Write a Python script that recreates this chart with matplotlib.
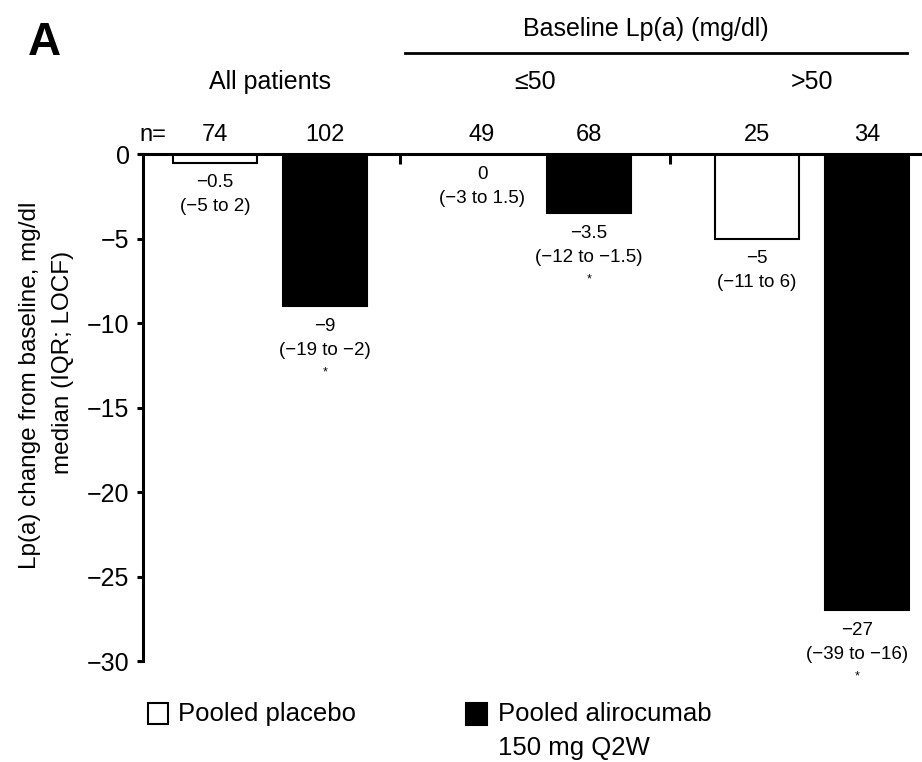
import matplotlib
matplotlib.use("Agg")
import matplotlib.pyplot as plt
from matplotlib.patches import Rectangle

plt.rcParams['font.family'] = ['Liberation Sans', 'DejaVu Sans']

# --- data ---
groups = ["All patients", "≤50", ">50"]
n_placebo = [74, 49, 25]
n_aliro = [102, 68, 34]
median_placebo = [-0.5, 0, -5]
median_aliro = [-9, -3.5, -27]
q1_placebo = [-5, -3, -11]
q3_placebo = [2, 1.5, 6]
q1_aliro = [-19, -12, -39]
q3_aliro = [-2, -1.5, -16]
sig_aliro = [True, True, True]
y_ticks = [0, -5, -10, -15, -20, -25, -30]

# bar positions (placebo, alirocumab) per group
pos_placebo = [0, 2.43, 4.93]
pos_aliro = [1, 3.4, 5.93]
sep_ticks = [1.685, 4.14]
bar_w = 0.765
# last label is nudged left so it stays inside the figure
label_dx_aliro = [0, 0, -10]


def fmt(v):
    return f"{v:g}".replace("-", "\u2212")


fig = plt.figure(figsize=(9.22, 7.62), dpi=100)
ax = fig.add_axes([0.1548, 0.1325, 0.8452, 0.665])

ax.bar(pos_placebo, median_placebo, width=bar_w, color='white',
       edgecolor='black', linewidth=1.5, zorder=2)
ax.bar(pos_aliro, median_aliro, width=bar_w, color='black',
       edgecolor='black', linewidth=1.5, zorder=2)

ax.set_xlim(-0.655, 6.43)
ax.set_ylim(-30, 0)

# axes styling: line at y=0 on top, y axis on the left
for s in ['bottom', 'right']:
    ax.spines[s].set_visible(False)
for s in ['top', 'left']:
    ax.spines[s].set_linewidth(2.2)
ax.xaxis.set_ticks_position('top')
ax.set_xticks(sep_ticks)
ax.set_xticklabels([])
ax.tick_params(axis='x', direction='in', length=7.5, width=2.2)
ax.set_yticks(y_ticks)
ax.set_yticklabels([fmt(v) for v in y_ticks])
ax.tick_params(axis='y', direction='out', length=4.5, width=2.2,
               labelsize=18, pad=5)


# median / IQR labels under each bar
def label_bar(x, med, q1, q3, sig, dx=0):
    ax.annotate(fmt(med), (x, med), xytext=(dx, -20), textcoords='offset pixels',
                ha='center', va='center', fontsize=13.5)
    ax.annotate(f"({fmt(q1)} to {fmt(q3)})", (x, med), xytext=(dx, -44),
                textcoords='offset pixels', ha='center', va='center', fontsize=13.5)
    if sig:
        ax.annotate("*", (x, med), xytext=(dx, -66), textcoords='offset pixels',
                    ha='center', va='center', fontsize=9)


for i in range(len(groups)):
    label_bar(pos_placebo[i], median_placebo[i], q1_placebo[i], q3_placebo[i], False)
    label_bar(pos_aliro[i], median_aliro[i], q1_aliro[i], q3_aliro[i], sig_aliro[i],
              label_dx_aliro[i])

# n= row and group headers (x in data, y in axes fraction)
tr = ax.get_xaxis_transform()
ax.text(-0.565, 1.038, "n=", transform=tr, ha='center', va='center', fontsize=17)
for i in range(len(groups)):
    ax.text(pos_placebo[i], 1.038, str(n_placebo[i]), transform=tr,
            ha='center', va='center', fontsize=17)
    ax.text(pos_aliro[i], 1.038, str(n_aliro[i]), transform=tr,
            ha='center', va='center', fontsize=17)
    ax.text((pos_placebo[i] + pos_aliro[i]) / 2, 1.142, groups[i], transform=tr,
            ha='center', va='center', fontsize=18)

ax.plot([1.73, 6.29], [1.2, 1.2], transform=tr, color='black', lw=2,
        clip_on=False)
ax.text(3.92, 1.247, "Baseline Lp(a) (mg/dl)", transform=tr,
        ha='center', va='center', fontsize=18)

# y label, two lines
fig.text(30 / 922, 1 - 385 / 762, "Lp(a) change from baseline, mg/dl",
         rotation=90, ha='center', va='center', fontsize=17.5)
fig.text(63 / 922, 1 - 362 / 762, "median (IQR; LOCF)",
         rotation=90, ha='center', va='center', fontsize=17.5)

fig.text(44 / 922, 1 - 43 / 762, "A", ha='center', va='center',
         fontsize=33, fontweight='bold')

# legend
fig.add_artist(Rectangle((148 / 922, 1 - 724 / 762), 20 / 922, 21 / 762,
                         transform=fig.transFigure, facecolor='white',
                         edgecolor='black', lw=1.5))
fig.text(178 / 922, 1 - 714 / 762, "Pooled placebo", ha='left', va='center',
         fontsize=18.5)
fig.add_artist(Rectangle((466 / 922, 1 - 725 / 762), 21 / 922, 22 / 762,
                         transform=fig.transFigure, facecolor='black',
                         edgecolor='black', lw=1.5))
fig.text(498 / 922, 1 - 714 / 762, "Pooled alirocumab", ha='left', va='center',
         fontsize=18.5)
fig.text(498 / 922, 1 - 748 / 762, "150 mg Q2W", ha='left', va='center',
         fontsize=18.5)

fig.savefig('out.png', dpi=100, facecolor='white')
